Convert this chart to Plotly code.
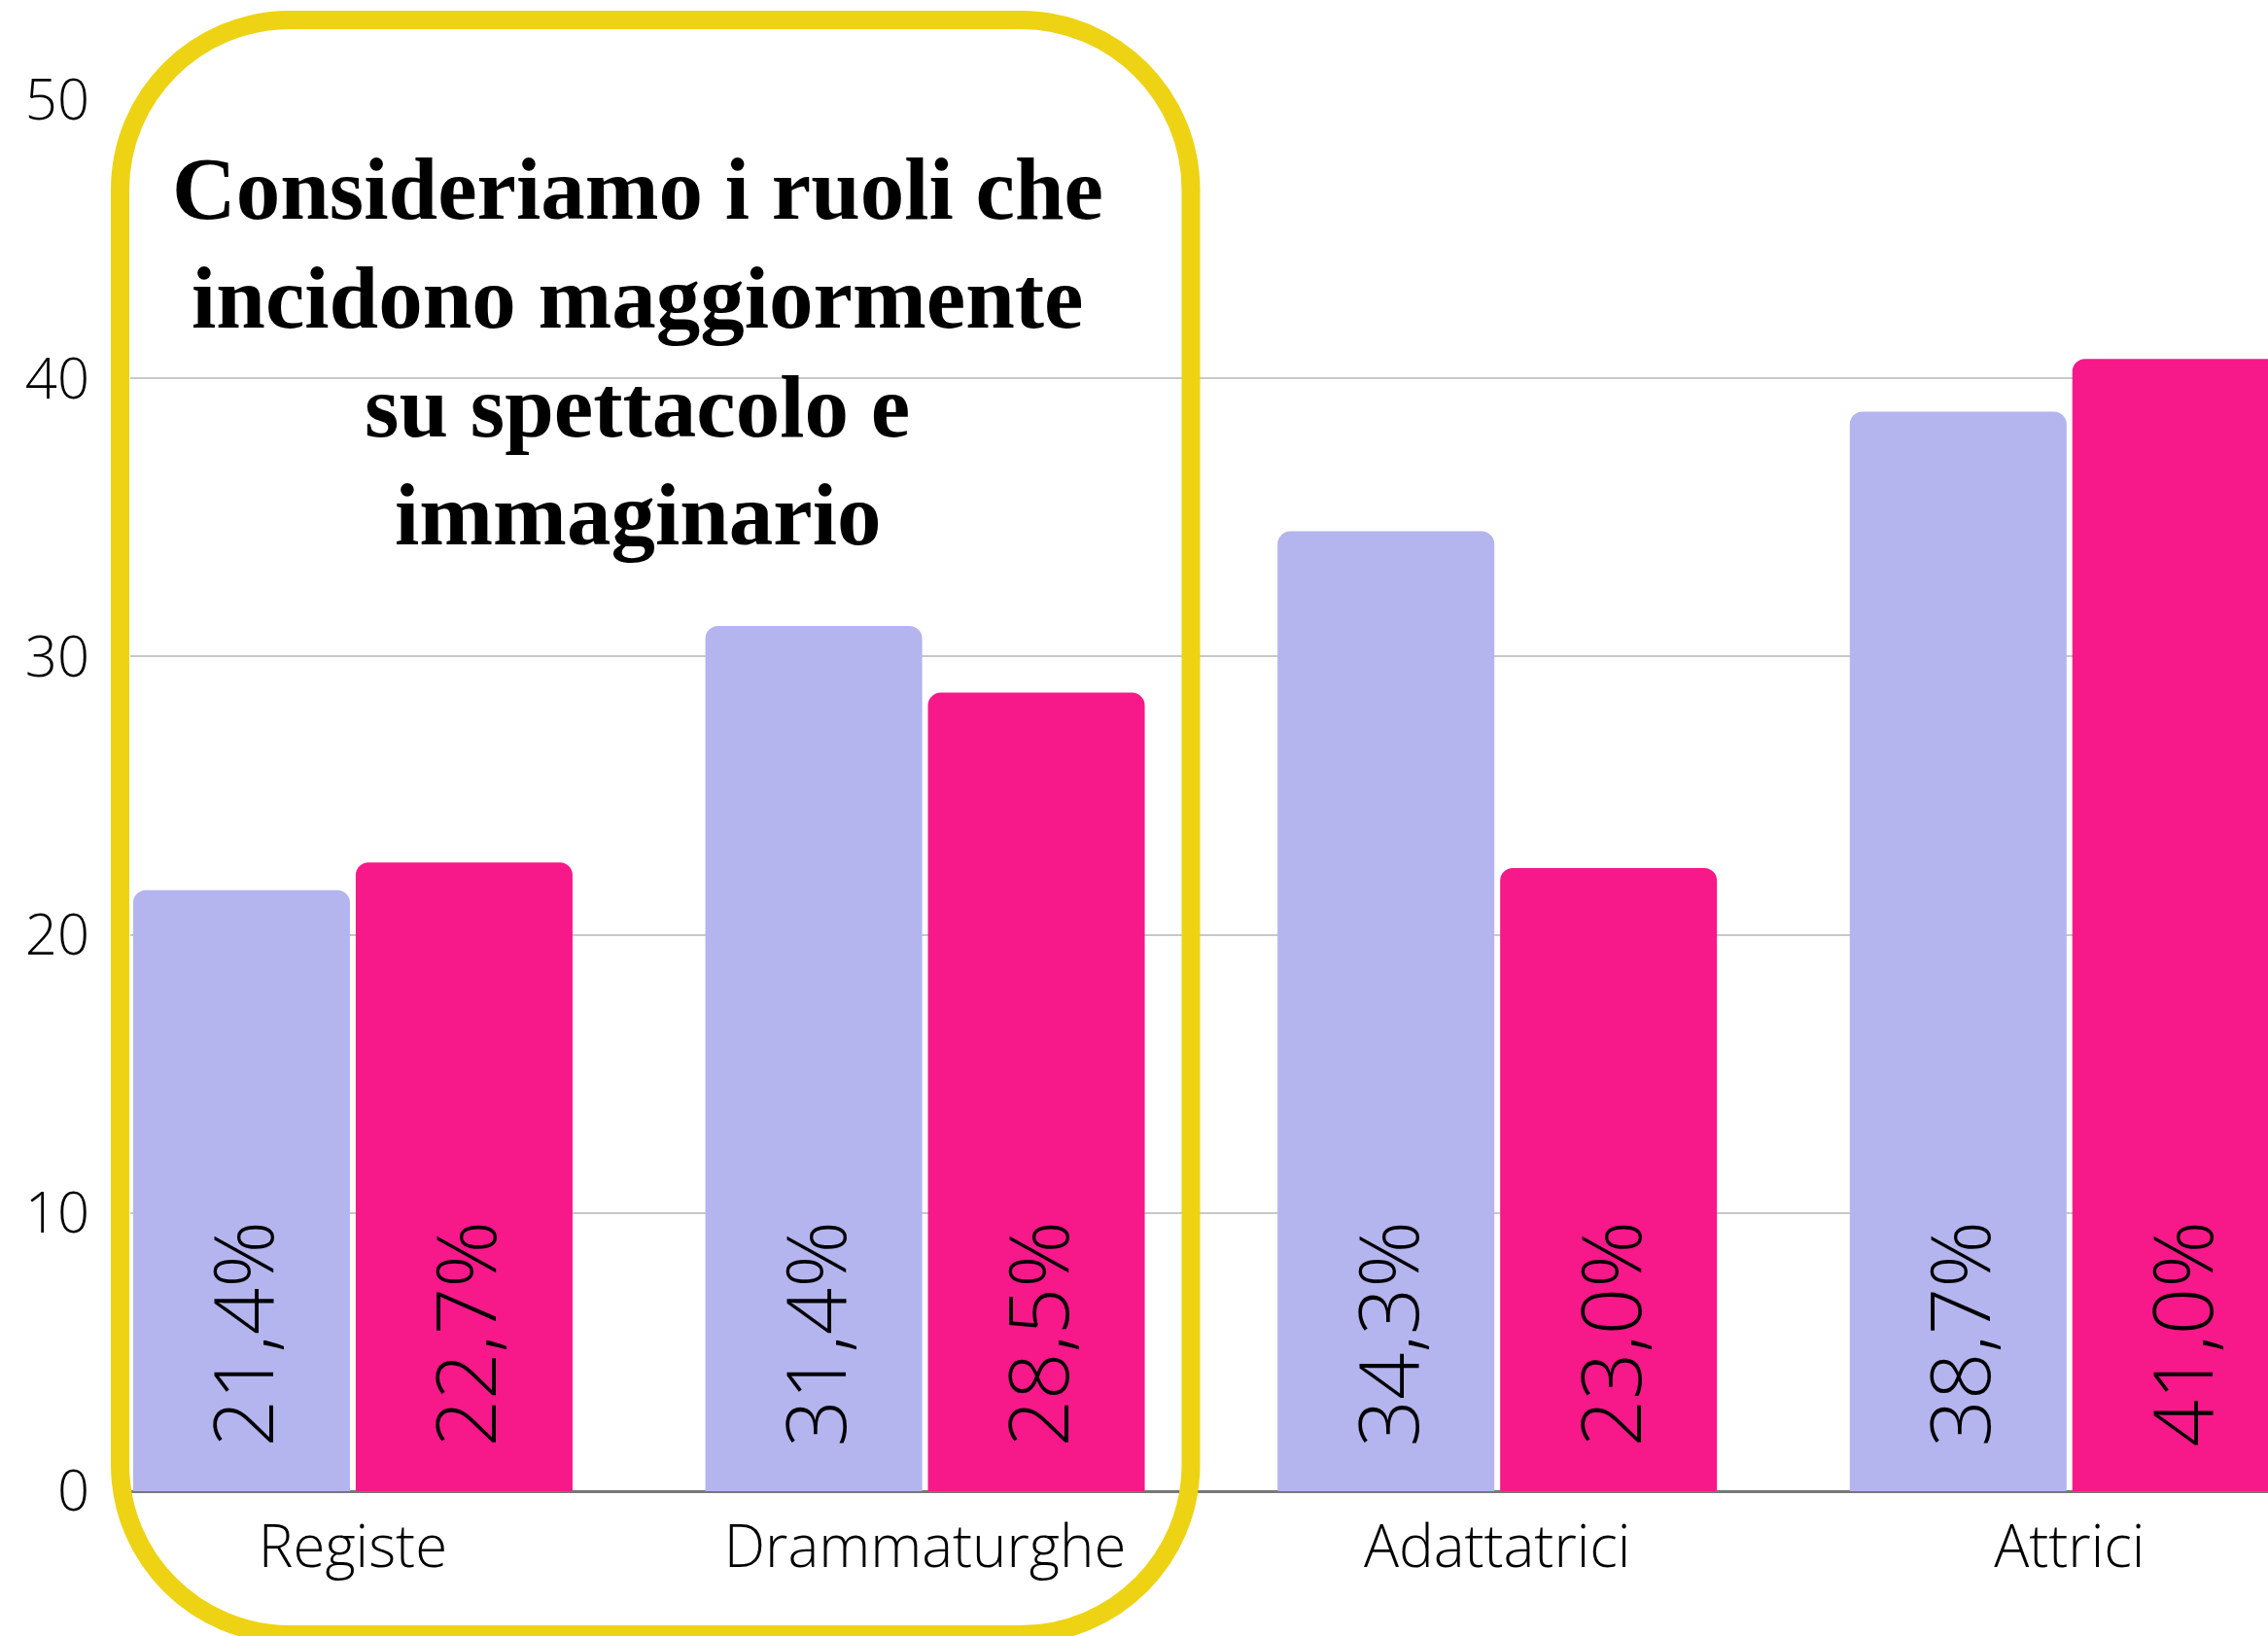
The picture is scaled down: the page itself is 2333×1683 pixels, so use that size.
import plotly.graph_objects as go

# ---- data ----
categories = ["Registe", "Drammaturghe", "Adattatrici", "Attrici"]
lavender_values = [21.6, 31.1, 34.5, 38.8]
pink_values = [22.6, 28.7, 22.4, 40.7]
lavender_labels = ["21,4%", "31,4%", "34,3%", "38,7%"]
pink_labels = ["22,7%", "28,5%", "23,0%", "41,0%"]
y_ticks = [0, 10, 20, 30, 40, 50]
title_lines = ["Consideriamo i ruoli che", "incidono maggiormente", "su spettacolo e", "immaginario"]

# ---- style / layout (screen-pixel targets; body margin removed by post_script) ----
OFF = 0
SCREEN_W, SCREEN_H = 2333, 1683
W, H = SCREEN_W - OFF, SCREEN_H - OFF
PLOT_L, PLOT_T, PLOT_R, PLOT_B = 134, 103, 2333, 1534  # screen coords
ML, MT = PLOT_L - OFF, PLOT_T - OFF
MR, MB = W - (PLOT_R - OFF), H - (PLOT_B - OFF)
PW, PH = W - ML - MR, H - MT - MB
LAVENDER = "#B4B4EE"
PINK = "#F7188A"
YELLOW = "#EDD314"
SANS = "Open Sans"
SERIF = "Liberation Serif"
TITLE_SIZE = 91
LABEL_PAD = "\u2002"


def to_paper(x, y):
    """screen pixel -> paper coords"""
    return ((x - PLOT_L) / PW, (PLOT_B - y) / PH)


def rounded_box_path(x0, y0, x1, y1, r):
    k = 0.5523 * r
    pts = [
        ("M", [(x0 + r, y0)]),
        ("L", [(x1 - r, y0)]),
        ("C", [(x1 - r + k, y0), (x1, y0 + r - k), (x1, y0 + r)]),
        ("L", [(x1, y1 - r)]),
        ("C", [(x1, y1 - r + k), (x1 - r + k, y1), (x1 - r, y1)]),
        ("L", [(x0 + r, y1)]),
        ("C", [(x0 + r - k, y1), (x0, y1 - r + k), (x0, y1 - r)]),
        ("L", [(x0, y0 + r)]),
        ("C", [(x0, y0 + r - k), (x0 + r - k, y0), (x0 + r, y0)]),
    ]
    out = []
    for cmd, ps in pts:
        coords = " ".join("%.5f,%.5f" % to_paper(px, py) for px, py in ps)
        out.append(cmd + " " + coords)
    return " ".join(out) + " Z"


fig = go.Figure()
for vals, labels, color in [(lavender_values, lavender_labels, LAVENDER),
                            (pink_values, pink_labels, PINK)]:
    fig.add_trace(go.Bar(
        x=categories, y=vals,
        text=[LABEL_PAD + t for t in labels],
        textposition="inside", insidetextanchor="start", textangle=-90,
        textfont=dict(family=SANS, size=85, color="black", weight=300),
        marker=dict(color=color, line=dict(width=0), cornerradius=13),
        hoverinfo="skip", showlegend=False,
    ))

fig.update_layout(
    width=W, height=H, autosize=False,
    margin=dict(l=ML, r=MR, t=MT, b=MB, pad=0),
    paper_bgcolor="white", plot_bgcolor="white",
    barmode="group", bargap=0.222, bargroupgap=0.026,
    showlegend=False,
    xaxis=dict(
        type="category", range=[-0.389, 3.347],
        showgrid=False, showline=False, zeroline=False, ticks="",
        tickfont=dict(family=SANS, size=60, color="black", weight=300),
        ticklabelstandoff=17,
    ),
    yaxis=dict(
        range=[0, 50], tickvals=y_ticks, ticktext=[str(v) for v in y_ticks],
        showgrid=True, gridcolor="#C8C8C8", gridwidth=2,
        zeroline=True, zerolinecolor="#777777", zerolinewidth=3,
        showline=False, ticks="",
        tickfont=dict(family=SANS, size=58, color="black", weight=300),
        ticklabelstandoff=41,
    ),
)

fig.add_shape(type="path", xref="paper", yref="paper",
              path=rounded_box_path(123.5, 20.5, 1225, 1681.5, 175),
              line=dict(color=YELLOW, width=19), fillcolor="rgba(0,0,0,0)",
              layer="above")

title_center_x = 655.5
title_baselines = [225, 337, 449, 560]
for line, base in zip(title_lines, title_baselines):
    tx, ty = to_paper(title_center_x, base - 0.3375 * TITLE_SIZE)
    fig.add_annotation(
        xref="paper", yref="paper", x=tx, y=ty, xanchor="center", yanchor="middle",
        text=line, showarrow=False, align="center",
        font=dict(family=SERIF, size=TITLE_SIZE, color="black", weight="bold"),
    )

fig.write_html(
    "out.html",
    config={"displayModeBar": False},
    post_script="document.body.style.margin='0';"
                "document.body.style.padding='0';"
                "document.documentElement.style.overflow='hidden';"
                "document.body.style.overflow='hidden';",
)
